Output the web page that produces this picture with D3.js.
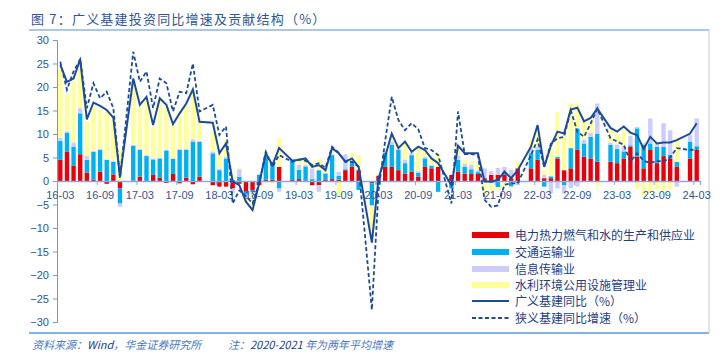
<!DOCTYPE html>
<html><head><meta charset="utf-8">
<script src="https://cdn.jsdelivr.net/npm/d3@7"></script>
<style>
body{margin:0;background:#fff;}
svg{display:block;font-family:"Noto Sans","Noto Sans CJK SC",sans-serif;}
</style></head>
<body><svg id="c" width="721" height="360"></svg>
<script>
const categories = [
"16-03","16-04","16-05","16-06","16-07","16-08","16-09","16-10","16-11","16-12",
"17-01","17-02","17-03","17-04","17-05","17-06","17-07","17-08","17-09","17-10","17-11","17-12",
"18-01","18-02","18-03","18-04","18-05","18-06","18-07","18-08","18-09","18-10","18-11","18-12",
"19-01","19-02","19-03","19-04","19-05","19-06","19-07","19-08","19-09","19-10","19-11","19-12",
"20-01","20-02","20-03","20-04","20-05","20-06","20-07","20-08","20-09","20-10","20-11","20-12",
"21-01","21-02","21-03","21-04","21-05","21-06","21-07","21-08","21-09","21-10","21-11","21-12",
"22-01","22-02","22-03","22-04","22-05","22-06","22-07","22-08","22-09","22-10","22-11","22-12",
"23-01","23-02","23-03","23-04","23-05","23-06","23-07","23-08","23-09","23-10","23-11","23-12",
"24-01","24-02","24-03"];
const xTickLabels = ["16-03","16-09","17-03","17-09","18-03","18-09","19-03","19-09","20-03","20-09","21-03","21-09","22-03","22-09","23-03","23-09","24-03"];
const yTicks = [-30,-25,-20,-15,-10,-5,0,5,10,15,20,25,30];

const power = [
4.5,6.2,3.3,5.7,1.8,0.3,2.0,-0.6,1.4,-1.6,
null,0.1,0.9,-0.2,1.3,0.7,-0.4,1.5,-0.5,0.7,-0.7,0.9,
null,-0.9,-1.2,-1.2,-1.6,-0.6,-2.3,-1.9,-0.9,0.3,0.3,3.0,
null,0.2,0.4,0.1,-0.9,-0.9,0.3,0.4,0.3,2.3,3.0,2.3,
null,-0.5,1.1,3.0,3.0,2.3,1.6,2.0,0.9,3.0,2.7,3.0,
null,1.3,2.0,1.6,1.5,1.5,0.6,1.3,1.3,1.3,0.6,2.7,
null,2.7,4.5,0.6,0.6,4.8,2.3,2.7,6.7,5.2,4.8,4.1,
null,4.1,3.8,4.8,7.3,5.2,2.7,6.6,3.8,5.3,4.8,3.0,
null,4.8,6.7];
const transport = [
4.0,4.1,4.0,8.7,2.7,5.9,4.6,4.5,2.7,-3.2,
null,7.4,5.7,5.3,3.3,4.1,6.5,3.2,6.6,5.9,8.4,7.4,
null,5.9,2.3,4.8,0.3,0.9,-0.6,-0.5,1.3,4.8,3.6,-1.6,
null,4.3,2.0,3.0,0.4,2.3,1.3,5.1,0.8,0.2,1.0,-1.9,
null,-4.6,-0.8,3.0,4.7,4.3,2.2,3.5,0.9,1.8,0.5,-2.3,
null,-1.5,2.5,1.4,1.0,0.4,-0.2,-0.5,-1.3,0.4,-1.2,-0.5,
null,3.2,2.1,-1.2,0.4,0.3,-0.9,4.3,4.5,2.8,4.6,6.0,
null,3.6,3.0,1.5,0.3,6.0,5.0,1.4,3.5,2.0,0.8,1.1,
null,3.6,0.7];
const infoTrans = [
0.7,0.3,0.9,1.1,0.8,0.2,0.2,0.1,0.2,-0.7,
null,0.2,0.2,0.2,0.2,0.2,0.2,0.1,0.2,0.3,0.5,0.2,
null,0.4,0.3,0.3,-0.9,1.6,-0.8,-0.5,0.2,0.2,0.1,-0.7,
null,0.1,1.1,0.3,2.3,-1.4,0.2,0.2,0.8,3.2,0.3,0.2,
null,-0.3,0.2,0.3,0.7,0.3,0.8,0.5,0.3,0.3,0.2,0.1,
null,-0.3,0.9,0.7,0.9,0.4,2.1,0.8,1.5,1.3,1.8,-0.4,
null,1.1,0.6,0.7,-2.6,-1.6,-1.8,-1.5,-1.2,0.8,0.8,6.4,
null,0.5,1.0,1.2,2.0,0.3,0.3,5.3,0.8,5.0,5.2,-1.2,
null,1.4,5.9];
const waterEnv = [
14.5,8.0,13.0,10.0,7.5,9.5,8.5,10.0,8.8,6.6,
null,13.5,9.0,11.8,6.7,12.2,9.0,7.0,8.0,9.0,10.0,5.0,
null,4.2,3.5,3.5,1.0,0.3,-1.0,-2.8,-0.4,1.0,-0.5,6.1,
null,0.2,1.2,1.2,1.0,2.3,1.0,0.8,-3.0,0.0,1.6,3.0,
null,-5.0,0.3,0.0,1.5,1.0,3.5,0.5,5.0,1.5,1.5,2.8,
null,0.0,2.0,0.8,0.8,1.6,-2.6,-2.0,-0.7,-1.2,-0.3,1.4,
null,1.7,3.5,1.0,5.9,9.6,7.5,9.5,5.3,3.8,3.0,-1.2,
null,2.7,2.3,3.5,0.6,-1.6,-3.3,-2.6,-1.9,-2.2,-1.8,5.0,
null,0.0,0.0];
const broadYoY = [
24.7,21.1,21.8,25.9,13.1,16.7,16.0,15.1,13.5,0.9,
null,21.8,16.2,17.9,11.9,17.6,16.2,12.1,14.4,16.5,19.5,12.6,
null,12.4,5.9,8.0,-0.1,-0.9,-4.4,-6.2,-0.5,5.9,3.4,7.0,
null,4.3,4.5,4.8,3.0,3.4,2.3,7.0,5.9,4.1,4.8,3.0,
null,-13.1,0.5,5.2,10.1,7.0,8.4,6.2,7.3,6.6,4.8,3.8,
null,-0.9,7.5,5.9,5.9,5.9,-0.1,-0.1,0.2,2.0,0.6,2.3,
null,7.3,11.9,3.0,7.5,10.5,10.1,15.2,15.6,12.7,13.4,15.4,
null,11.3,10.5,11.6,10.3,9.8,6.8,9.4,8.0,8.2,8.2,8.7,
null,10.1,12.3];
const narrowYoY = [
25.4,19.4,23.3,25.9,15.5,20.8,17.6,19.0,15.5,0.6,
null,27.5,21.1,23.3,15.5,21.8,20.8,14.8,19.0,18.7,25.0,14.8,
null,16.2,9.8,11.6,-4.8,-2.0,-3.2,-4.8,-0.5,6.2,3.0,5.5,
null,4.1,4.6,4.3,3.4,3.8,2.8,7.3,6.0,4.1,4.1,3.0,
null,-27.4,-2.0,8.5,17.9,13.0,10.8,12.3,11.0,7.0,6.6,5.5,
null,-4.8,14.8,5.7,5.7,5.5,-4.0,-5.5,-5.2,-0.8,-0.5,-0.5,
null,5.5,8.8,3.0,7.9,9.1,9.4,15.1,10.5,9.4,12.2,15.4,
null,9.1,8.4,7.7,4.1,5.9,4.3,3.8,4.3,4.1,5.0,7.0,
null,6.6,6.7];

const seriesNames = ["电力热力燃气和水的生产和供应业","交通运输业","信息传输业","水利环境公用设施管理业","广义基建同比（%）","狭义基建同比增速（%）"];
const barColors = ["#e8000b","#00b0f0","#ccccff","#ffff99"];
const lineColor = "#1d4b9c";
const textColor = "#2f5597";

const svg = d3.select("#c");
const x0 = 57, x1 = 700, yTop = 40, yBot = 322;

// frame lines
svg.append("line").attr("x1",29).attr("x2",709).attr("y1",30).attr("y2",30).attr("stroke","#8db4e2").attr("stroke-width",1.5);
svg.append("line").attr("x1",29).attr("x2",709).attr("y1",333).attr("y2",333).attr("stroke","#5b9bd5").attr("stroke-width",1.5);
svg.append("line").attr("x1",709).attr("x2",709).attr("y1",30).attr("y2",333).attr("stroke","#c8c8c8").attr("stroke-width",1);

// title
svg.append("text").attr("x",31).attr("y",24).attr("fill",textColor).attr("font-size",13).attr("letter-spacing",1.2)
  .attr("font-family","'Noto Sans CJK SC',sans-serif").text("图 7：广义基建投资同比增速及贡献结构（%）");

const x = d3.scaleBand().domain(categories).range([x0,x1]).paddingInner(0.34).paddingOuter(0.17);
const xb = d3.scaleLinear().domain([0,categories.length]).range([x0,x1]);
const y = d3.scaleLinear().domain([-30,30]).range([yBot,yTop]);

// bars
const rows = categories.map((c,i)=>({cat:c, p:power[i]||0, t:transport[i]||0, l:infoTrans[i]||0, w:waterEnv[i]||0}));
const stack = d3.stack().keys(["p","t","l","w"]).offset(d3.stackOffsetDiverging)(rows);
svg.append("g").selectAll("g").data(stack).join("g").attr("fill",(d,i)=>barColors[i])
  .selectAll("rect").data(d=>d).join("rect")
  .attr("x",d=>x(d.data.cat)).attr("width",x.bandwidth())
  .attr("y",d=>y(Math.max(d[0],d[1]))).attr("height",d=>Math.abs(y(d[0])-y(d[1])));

// y axis
const ya = svg.append("g").attr("transform",`translate(${x0},0)`)
  .call(d3.axisLeft(y).tickValues(yTicks).tickSize(4).tickPadding(4).tickFormat(d3.format("d")));
ya.select(".domain").attr("stroke","#8497b0");
ya.selectAll(".tick line").attr("stroke","#8497b0");
ya.selectAll("text").attr("fill",textColor).attr("font-size",11).attr("font-family","'Liberation Sans',sans-serif");

// x axis at zero
const xa = svg.append("g").attr("transform",`translate(0,${y(0)})`)
  .call(d3.axisBottom(xb).tickValues(d3.range(6,categories.length,6)).tickSize(4).tickFormat(""));
xa.select(".domain").attr("stroke","#8eaadb").attr("stroke-width",1.3);
xa.selectAll(".tick line").attr("stroke","#8eaadb");
const xl = svg.append("g").attr("transform",`translate(0,${y(0)})`)
  .call(d3.axisBottom(x).tickValues(xTickLabels).tickSize(0).tickPadding(10));
xl.select(".domain").remove();
xl.selectAll("text").attr("fill",textColor).attr("font-size",11).attr("font-family","'Liberation Sans',sans-serif");

// lines
function pts(arr){return categories.map((c,i)=>({c, v:arr[i]})).filter(d=>d.v!=null);}
const line = d3.line().x(d=>x(d.c)+x.bandwidth()/2).y(d=>y(d.v));
svg.append("path").datum(pts(narrowYoY)).attr("d",line).attr("fill","none").attr("stroke",lineColor).attr("stroke-width",1.8).attr("stroke-dasharray","4,2.5");
svg.append("path").datum(pts(broadYoY)).attr("d",line).attr("fill","none").attr("stroke",lineColor).attr("stroke-width",2);

// legend
const lg = svg.append("g").attr("transform","translate(472,0)");
const ly = [235,252,269,285,301,318];
seriesNames.forEach((n,i)=>{
  if(i<4){ lg.append("rect").attr("x",0).attr("y",ly[i]-3).attr("width",37).attr("height",6).attr("fill",barColors[i]); }
  else { lg.append("line").attr("x1",0).attr("x2",37).attr("y1",ly[i]).attr("y2",ly[i]).attr("stroke",lineColor).attr("stroke-width",i===4?2:1.8).attr("stroke-dasharray",i===5?"4,2.5":null); }
  lg.append("text").attr("x",43).attr("y",ly[i]+4.5).attr("font-size",12).attr("fill","#1f3c88")
    .attr("font-family","'Noto Sans CJK SC',sans-serif").text(n);
});

// source
const s1 = svg.append("text").attr("x",32).attr("y",349).attr("font-size",11).attr("font-style","italic")
  .attr("font-family","'Noto Sans CJK SC',sans-serif");
s1.append("tspan").attr("fill","#4a78c4").text("资料来源：");
s1.append("tspan").attr("fill","#1f3c88").text("Wind");
s1.append("tspan").attr("fill","#4a78c4").text("，华金证券研究所");
const s2 = svg.append("text").attr("x",228).attr("y",349).attr("font-size",11).attr("font-style","italic")
  .attr("font-family","'Noto Sans CJK SC',sans-serif");
s2.append("tspan").attr("fill","#4a78c4").text("注：");
s2.append("tspan").attr("fill","#1f3c88").text("2020-2021 ");
s2.append("tspan").attr("fill","#4a78c4").text("年为两年平均增速");
</script></body></html>
